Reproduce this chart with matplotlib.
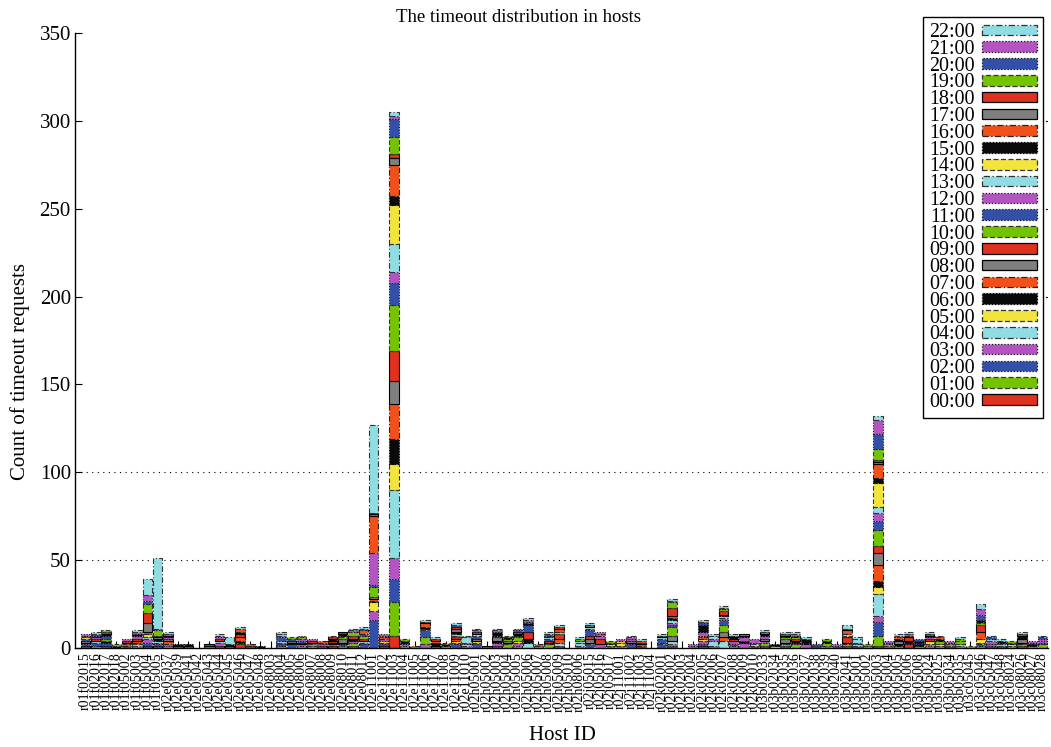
import matplotlib
matplotlib.use("Agg")
import matplotlib.pyplot as plt
from matplotlib.patches import Patch
import numpy as np

plt.rcParams['font.family'] = ['Liberation Serif', 'DejaVu Serif']

hosts = [
    "r01f02015", "r01f02016", "r01f02017", "r01f02018", "r01f05002", "r01f05003", "r01f05004", "r01f05005",
    "r02e05037", "r02e05039", "r02e05041", "r02e05042", "r02e05043", "r02e05044", "r02e05045", "r02e05046",
    "r02e05047", "r02e05048",
    "r02e08003", "r02e08004", "r02e08005", "r02e08006", "r02e08007", "r02e08008", "r02e08009", "r02e08010",
    "r02e08011", "r02e08012",
    "r02e11001", "r02e11002", "r02e11003", "r02e11004", "r02e11005", "r02e11006", "r02e11007", "r02e11008",
    "r02e11009", "r02e11010",
    "r02h05001", "r02h05002", "r02h05003", "r02h05004", "r02h05005", "r02h05006", "r02h05007", "r02h05008",
    "r02h05009", "r02h05010", "r02h08006",
    "r02j05015", "r02j05016", "r02j05017", "r02j11001", "r02j11002", "r02j11003", "r02j11004",
    "r02k02001", "r02k02002", "r02k02003", "r02k02004", "r02k02005", "r02k02006", "r02k02007", "r02k02008",
    "r02k02009", "r02k02010",
    "r03b02033", "r03b02034", "r03b02035", "r03b02036", "r03b02037", "r03b02038", "r03b02039", "r03b02040",
    "r03b02041",
    "r03b05001", "r03b05002", "r03b05003", "r03b05004", "r03b05005", "r03b05006", "r03b05008",
    "r03b05024", "r03b05025", "r03b05034", "r03b05035",
    "r03c05045", "r03c05046", "r03c05047", "r03c05048", "r03c08024", "r03c08026", "r03c08027", "r03c08028",
]

hour_labels = ["%02d:00" % h for h in range(23)]

h00 = [1,0,1,0,0,0,1,1,0,0, 1,0,0,1,0,2,1,0,0,0, 0,0,0,1,1,0,1,0,0,1, 7,0,0,0,1,0,0,0,0,1,
       1,0,0,0,0,0,1,0,0,0, 0,0,0,0,0,0,0,0,0,0, 1,0,0,0,0,0,1,0,1,0, 0,0,0,0,1,0,0,1,0,0,
       2,0,0,0,0,0,0,0,0,1, 0,1,0,0]
h01 = [0,1,0,0,0,0,0,0,1,0, 0,0,0,0,0,1,0,0,0,1, 0,1,1,0,0,1,2,0,0,0, 19,1,0,0,0,1,0,0,0,0,
       0,2,1,0,1,2,0,0,0,0, 0,0,0,0,0,0,0,0,0,0, 0,0,0,1,0,0,2,0,1,2, 0,0,0,0,1,0,1,6,0,1,
       0,1,1,1,0,1,0,1,0,0, 1,1,1,2]
h02 = [1,2,2,0,1,0,2,1,0,0, 0,0,0,0,0,0,0,0,0,1, 2,0,0,0,0,1,0,2,16,1, 13,0,0,0,0,0,2,0,2,0,
       0,0,0,0,0,1,0,0,0,2, 0,0,0,2,1,0,2,1,0,0, 1,0,0,1,0,1,0,0,1,0, 0,1,0,1,0,1,0,8,0,0,
       0,0,0,0,1,0,0,1,1,0, 0,0,0,1]
h03 = [1,0,0,0,0,1,2,1,1,0, 0,0,1,2,0,0,0,0,0,1, 0,1,0,1,0,0,1,1,5,1, 12,1,0,2,0,0,1,1,1,0,
       2,0,2,0,0,0,0,0,1,0, 2,0,1,1,0,0,0,1,0,1, 2,1,0,2,3,0,1,0,0,1, 2,0,1,0,0,0,0,3,1,0,
       1,0,1,0,0,0,0,0,1,0, 0,0,0,1]
h04 = [0,1,0,0,0,1,1,1,0,0, 0,0,0,1,0,0,0,0,0,1, 0,0,0,0,0,0,0,1,0,0, 39,0,0,0,0,0,0,1,0,0,
       0,1,0,3,0,0,2,0,2,1, 0,0,0,0,0,0,1,2,0,0, 0,3,4,0,0,0,0,0,0,0, 0,0,0,0,0,1,0,13,0,0,
       0,0,0,0,0,1,0,1,0,1, 0,0,0,0]
h05 = [0,0,0,0,0,1,2,0,0,0, 0,0,0,0,0,0,0,0,0,0, 0,0,0,0,0,0,0,0,5,1, 15,0,0,0,0,0,1,0,1,0,
       0,0,1,0,0,0,0,0,0,0, 0,0,2,0,0,0,0,0,0,0, 1,0,0,0,0,1,0,1,0,0, 0,0,0,0,1,0,0,4,0,0,
       0,0,2,1,0,0,0,2,0,0, 1,0,0,0]
h06 = [0,0,1,1,0,0,0,1,0,0, 1,0,0,0,0,1,0,0,0,0, 1,0,0,0,0,1,1,0,1,0, 14,0,0,0,1,1,0,0,0,0,
       1,0,0,2,0,0,0,0,0,0, 0,0,0,0,0,0,0,0,0,0, 0,0,0,0,1,0,0,0,0,1, 1,0,0,0,0,0,0,3,0,1,
       1,1,0,0,0,0,0,0,0,0, 1,0,1,0]
h07 = [0,0,0,0,1,1,1,0,2,0, 0,0,0,0,0,2,1,0,0,0, 0,0,0,0,1,0,0,0,1,0, 20,0,1,0,0,0,1,0,0,0,
       0,0,0,0,0,0,2,0,0,0, 0,1,0,0,1,0,0,0,0,0, 1,0,2,0,0,0,0,0,0,0, 0,0,0,0,0,0,0,9,0,0,
       0,0,0,0,0,0,0,4,0,0, 0,1,0,0]
h08 = [1,0,0,0,0,0,5,1,1,0, 0,0,0,0,0,0,0,0,0,0, 1,0,0,0,1,2,0,0,1,0, 13,0,0,0,0,0,0,0,1,0,
       2,1,0,0,0,0,0,0,0,2, 0,0,0,1,0,0,0,3,0,0, 0,0,3,0,0,0,1,0,2,0, 0,0,0,0,0,0,0,7,0,2,
       0,0,0,0,0,0,0,0,0,0, 0,2,0,0]
h09 = [0,1,0,0,0,1,6,1,0,1, 0,0,0,1,1,2,0,0,0,0, 0,1,0,0,1,0,2,1,0,0, 17,0,0,0,1,0,1,0,0,0,
       0,0,0,4,0,1,3,0,0,2, 3,0,0,0,1,0,0,0,0,0, 0,0,0,1,0,0,0,0,0,1, 0,0,0,0,3,0,0,4,0,0,
       2,0,1,0,0,0,0,4,0,0, 0,0,0,0]
h10 = [0,0,1,0,0,0,5,3,0,0, 0,0,0,0,0,0,0,0,0,0, 0,0,1,0,0,1,2,2,6,0, 26,0,0,4,0,0,1,0,0,0,
       0,1,2,0,0,0,0,0,0,0, 0,0,0,0,0,0,0,5,0,0, 0,0,4,0,0,0,0,0,1,1, 0,0,2,0,0,0,1,9,1,0,
       0,0,0,2,1,2,0,1,0,0, 0,0,0,0]
h11 = [1,0,2,0,0,0,2,0,0,0, 0,0,0,0,0,0,0,0,0,2, 1,1,0,0,0,0,0,1,1,0, 13,1,0,4,0,0,0,0,2,0,
       0,0,0,4,0,1,0,0,0,3, 0,0,0,0,0,0,2,1,0,0, 1,0,3,0,0,0,0,0,0,0, 0,0,0,0,0,1,0,5,0,0,
       0,1,0,0,0,0,0,0,0,0, 0,0,1,0]
h12 = [0,1,0,0,0,2,3,1,1,0, 0,0,0,1,0,0,0,0,0,1, 0,1,0,1,0,0,1,0,18,1, 6,0,0,0,0,0,0,1,0,0,
       1,0,1,0,0,0,0,0,0,1, 2,0,0,1,0,0,0,1,0,1, 2,1,1,0,2,0,2,0,0,0, 0,0,0,1,1,0,0,5,1,0,
       0,0,1,0,0,0,0,0,2,0, 0,0,0,1]
h13 = [0,0,0,0,0,0,9,0,0,0, 0,0,0,0,0,0,0,0,0,1, 0,0,1,0,0,1,1,0,0,0, 16,0,0,1,0,0,1,3,0,0,
       0,0,0,0,0,1,1,0,1,1, 0,0,0,0,0,0,1,2,0,0, 0,2,1,0,0,1,0,0,0,0, 0,0,0,0,0,2,0,3,0,0,
       0,0,0,0,0,0,0,0,1,1, 0,0,0,0]
h14 = [1,0,0,0,1,0,0,0,0,0, 0,0,0,0,0,0,0,0,0,0, 0,0,0,0,0,0,0,0,0,0, 22,0,0,0,0,1,0,0,1,0,
       0,0,0,0,0,0,0,0,0,0, 0,1,1,0,0,0,0,0,0,0, 0,0,0,0,0,0,0,0,0,0, 0,0,0,0,1,0,0,14,0,0,
       0,0,0,0,1,0,0,1,0,0, 0,0,0,0]
h15 = [0,1,1,0,0,1,0,0,1,1, 0,0,0,0,1,1,0,1,0,0, 0,0,0,0,1,1,0,0,0,0, 5,1,0,1,0,0,1,0,0,0,
       2,1,1,1,0,0,0,0,0,0, 0,1,0,0,0,0,0,1,0,0, 4,0,1,1,1,0,1,1,1,1, 2,0,1,0,0,0,0,3,0,1,
       1,1,1,1,0,0,0,1,0,1, 0,2,0,0]
h16 = [0,0,0,0,0,0,0,0,0,0, 0,0,0,0,0,2,0,0,0,0, 0,0,0,1,0,0,0,2,21,1, 18,0,0,2,1,0,0,0,0,0,
       0,0,0,0,1,1,2,0,0,0, 1,0,0,0,1,0,0,1,0,0, 0,0,0,0,0,0,0,0,0,0, 0,0,0,0,2,0,0,8,0,1,
       1,0,0,1,0,0,0,0,0,0, 0,0,0,0]
h17 = [0,0,0,0,0,0,0,0,1,0, 0,0,0,0,0,0,0,0,0,0, 0,0,0,0,0,0,0,0,1,0, 4,0,0,0,0,0,2,0,0,0,
       0,0,0,0,0,0,0,0,0,1, 0,0,0,0,0,0,1,0,0,0, 0,0,0,1,1,0,1,0,0,0, 0,0,0,0,0,0,0,1,0,0,
       0,0,0,0,0,0,0,0,0,0, 0,0,0,0]
h18 = [0,0,1,0,1,0,0,0,0,0, 0,0,1,0,0,0,0,0,0,0, 0,0,1,0,1,1,0,0,1,0, 2,0,0,1,1,0,1,0,1,0,
       0,0,1,0,0,0,1,0,0,0, 0,0,0,0,0,0,0,5,0,0, 0,0,2,0,0,0,0,0,1,0, 0,0,0,0,1,0,0,1,0,0,
       0,0,1,0,0,0,0,0,0,0, 0,1,0,0]
h19 = [1,0,1,1,0,0,0,0,0,0, 0,0,0,0,0,0,0,0,0,0, 1,1,0,0,0,0,0,0,0,0, 10,1,0,0,0,0,0,0,0,0,
       0,1,0,1,0,0,0,0,1,0, 0,1,0,0,0,0,0,3,0,0, 0,0,1,0,0,0,0,0,0,0, 0,0,1,0,0,0,0,6,0,0,
       0,0,0,0,0,1,1,0,0,0, 1,0,0,0]
h20 = [0,1,0,0,0,0,0,0,0,0, 0,0,0,0,0,0,0,0,0,0, 0,0,0,0,0,0,0,1,0,1, 10,0,0,0,0,0,1,0,0,0,
       0,0,1,0,0,1,0,0,0,0, 0,0,0,0,0,0,0,0,0,0, 1,0,1,0,0,0,0,0,0,0, 0,1,0,0,0,0,0,9,0,0,
       0,1,0,0,0,0,0,3,1,0, 0,0,0,1]
h21 = [1,0,0,0,1,1,0,0,0,0, 0,0,0,1,0,0,0,0,0,0, 0,1,1,0,0,0,0,0,0,1, 2,0,0,0,0,0,0,0,1,0,
       1,0,1,1,0,0,0,0,0,0, 1,0,1,1,0,0,0,1,0,0, 1,0,0,0,0,2,0,0,0,1, 0,0,0,0,0,0,0,8,1,1,
       0,0,0,0,1,0,0,3,0,0, 0,0,1,0]
h22 = [0,1,0,0,0,1,0,40,1,0, 0,0,0,1,4,1,0,0,0,1, 0,0,0,0,1,0,0,1,50,0, 2,0,0,1,1,0,1,1,1,0,
       1,0,0,1,0,1,1,0,1,1, 0,0,0,1,1,0,1,1,0,0, 1,1,1,1,0,0,1,0,1,1, 1,0,0,0,2,1,0,2,0,1,
       1,0,1,1,0,1,0,3,1,1, 0,1,0,1]

series = [h00, h01, h02, h03, h04, h05, h06, h07, h08, h09, h10, h11,
          h12, h13, h14, h15, h16, h17, h18, h19, h20, h21, h22]

fills = ['#e0311f', '#74c300', '#3350a8', '#b454c2', '#8fdde3',
         '#f3e33d', '#0a0a0a', '#f2501a', '#7f7f7f']
edge_styles = ['-', (0, (4, 2)), (0, (1, 1.5)), (0, (1, 1.5)), (0, (5, 2, 1, 2)),
               (0, (4, 2)), (0, (1, 1.5)), (0, (5, 2, 1, 2)), '-']
edge_cols = ['#000000', '#333333', '#111111', '#111111', '#333333',
             '#333333', '#000000', '#222222', '#000000']

W, H = 1051, 747
fig = plt.figure(figsize=(W / 100, H / 100), dpi=100)
ax = fig.add_axes([75 / W, 1 - 648 / H, (1048 - 75) / W, (648 - 33) / H])

n = len(hosts)
x = np.arange(n)
bottom = np.zeros(n)
handles = []
for i, vals in enumerate(series):
    assert len(vals) == n, (i, len(vals))
    v = np.array(vals, dtype=float)
    k = i % 9
    nz = v > 0
    ax.bar(x[nz], v[nz], bottom=bottom[nz], width=0.92, color=fills[k], edgecolor=edge_cols[k],
           linestyle=edge_styles[k], linewidth=0.8, zorder=2)
    bottom += v
    handles.append(Patch(facecolor=fills[k], edgecolor=edge_cols[k],
                         linestyle=edge_styles[k], linewidth=0.9, label=hour_labels[i]))

ax.set_xlim(-1.02, 93.54)
ax.set_ylim(0, 350)
ax.set_axisbelow(True)

for yv in (50, 100):
    ax.axhline(yv, color='black', linestyle=(0, (1, 4)), linewidth=0.8, zorder=0.5)
for yv in (200, 250, 300):
    ax.plot([93.36, 93.5], [yv, yv], color='black', linewidth=0.8, zorder=0.5)

ax.set_xticks(x)
ax.set_xticklabels(hosts, rotation=90, fontsize=10)
ax.set_yticks(range(0, 351, 50))
ax.tick_params(axis='y', direction='in', length=5, width=0.8, labelsize=15, pad=3)
ax.tick_params(axis='x', direction='in', length=5, width=0.8, pad=3)
for s in ('top', 'right'):
    ax.spines[s].set_visible(False)
for s in ('left', 'bottom'):
    ax.spines[s].set_linewidth(1.0)

fig.text(519 / W, 1 - 17 / H, "The timeout distribution in hosts", ha='center', va='center', fontsize=13.5)
fig.text(562 / W, 1 - 735 / H, "Host ID", ha='center', va='center', fontsize=15)
fig.text(20 / W, 1 - 372 / H, "Count of timeout requests", ha='center', va='center',
         rotation=90, fontsize=15)

leg = ax.legend(handles[::-1], hour_labels[::-1], loc='upper right',
                bbox_to_anchor=(1043 / W, 1 - 17 / H), bbox_transform=fig.transFigure,
                fontsize=14.4, markerfirst=False, frameon=True, fancybox=False,
                edgecolor='black', framealpha=1, labelspacing=-0.11, handlelength=2.75,
                handleheight=0.45, handletextpad=0.35, borderpad=0.3, borderaxespad=0)
leg.get_frame().set_linewidth(1.0)
leg.set_zorder(5)

fig.savefig("out.png", dpi=100)
